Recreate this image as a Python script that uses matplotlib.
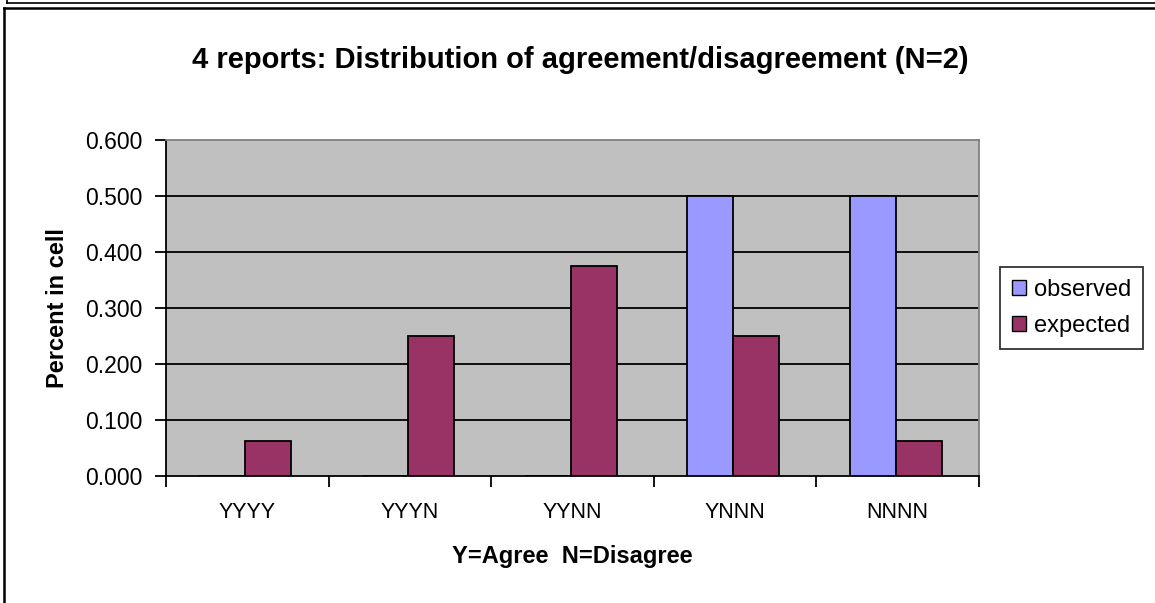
import matplotlib
matplotlib.use("Agg")
import matplotlib.pyplot as plt
from matplotlib.lines import Line2D
from matplotlib.patches import Patch
import numpy as np

plt.rcParams['font.family'] = ['Liberation Sans', 'DejaVu Sans']

categories = ["YYYY", "YYYN", "YYNN", "YNNN", "NNNN"]
observed = [0.0, 0.0, 0.0, 0.5, 0.5]
expected = [0.0625, 0.25, 0.375, 0.25, 0.0625]
yticks = [0.0, 0.1, 0.2, 0.3, 0.4, 0.5, 0.6]

W, H = 1155, 603
fig = plt.figure(figsize=(W / 100, H / 100), dpi=100)
fig.patch.set_facecolor("white")

left, right, top, bottom = 166, 979, 140, 476
ax = fig.add_axes([left / W, 1 - bottom / H, (right - left) / W, (bottom - top) / H])
ax.set_facecolor("#C0C0C0")

x = np.arange(len(categories))
w = 0.283
off = -0.012
ax.bar(x - w / 2 + off, observed, width=w, color="#9999FF", edgecolor="black", linewidth=1.3, zorder=3)
ax.bar(x + w / 2 + off, expected, width=w, color="#993366", edgecolor="black", linewidth=1.3, zorder=3)

ax.set_xlim(-0.5, len(categories) - 0.5)
ax.set_ylim(0, 0.6)
ax.set_yticks(yticks)
ax.set_yticklabels([f"{v:.3f}" for v in yticks], fontsize=16.5)
for v in yticks[1:-1]:
    ax.axhline(v, color="black", linewidth=1.3, zorder=1)

ax.set_xticks(np.arange(-0.5, len(categories), 1.0))
ax.set_xticklabels([])
ax.set_xticks(x, minor=True)
ax.set_xticklabels(categories, minor=True, fontsize=15.5)
ax.tick_params(axis="x", which="minor", length=0, pad=19)
ax.tick_params(axis="x", which="major", length=8, width=1.3, direction="out")
ax.tick_params(axis="y", length=8, width=1.3, direction="out", pad=9)

for s in ["left", "bottom"]:
    ax.spines[s].set_color("black")
    ax.spines[s].set_linewidth(1.3)
for s in ["top", "right"]:
    ax.spines[s].set_color("#808080")
    ax.spines[s].set_linewidth(1.3)

ax.set_ylabel("Percent in cell", fontsize=17, fontweight="bold")
ax.yaxis.set_label_coords((58 - left) / (right - left), 0.5)
ax.set_xlabel("Y=Agree  N=Disagree", fontsize=17, fontweight="bold")
ax.xaxis.set_label_coords(0.5, -(557 - bottom) / (bottom - top))
ax.xaxis.label.set_va("center")
ax.yaxis.label.set_va("center")

fig.text(580 / W, 1 - 60 / H, "4 reports: Distribution of agreement/disagreement (N=2)",
         ha="center", va="center", fontsize=21, fontweight="bold")

handles = [Patch(facecolor="#9999FF", edgecolor="black", label="observed"),
           Patch(facecolor="#993366", edgecolor="black", label="expected")]
leg = fig.legend(handles=handles, loc="upper left",
                 bbox_to_anchor=(1000 / W, 1 - 267 / H),
                 fontsize=17, frameon=True, fancybox=False, borderpad=0.5,
                 handlelength=0.6, handleheight=0.6, handletextpad=0.35, labelspacing=0.6,
                 borderaxespad=0)
leg.get_frame().set_edgecolor("black")
leg.get_frame().set_linewidth(1.3)

# outer frame lines
def fl(x0, y0, x1, y1, lw):
    fig.add_artist(Line2D([x0 / W, x1 / W], [1 - y0 / H, 1 - y1 / H], color="black", linewidth=lw))

fl(7, 3, W, 3, 1.2)
fl(7, 0, 7, 3, 1.2)
fl(4, 8, W, 8, 1.8)
fl(4, 8, 4, H, 1.8)

fig.savefig("out.png", dpi=100)
